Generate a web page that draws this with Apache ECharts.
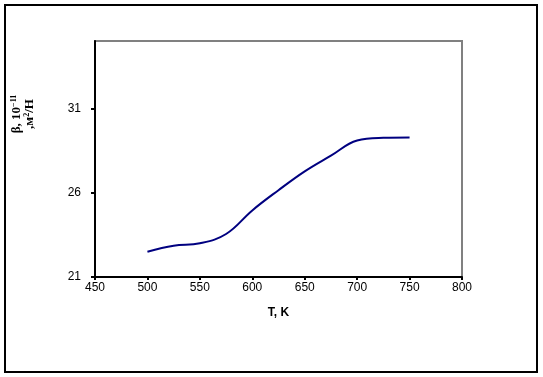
<!DOCTYPE html>
<html>
<head>
<meta charset="utf-8">
<script src="https://cdn.jsdelivr.net/npm/echarts@6/dist/echarts.min.js"></script>
<style>
html,body{margin:0;padding:0;background:#fff;}
#c{width:543px;height:377px;}
</style>
</head>
<body>
<div id="c"></div>
<script>
var temps = [500, 525, 550, 575, 600, 625, 650, 675, 700, 725, 750];
var beta = [22.5, 22.85, 23.0, 23.55, 24.95, 26.15, 27.27, 28.2, 29.1, 29.26, 29.28];
var xTicks = [450, 500, 550, 600, 650, 700, 750, 800];
var yTicks = [21, 26, 31];

var chart = echarts.init(document.getElementById('c'));
chart.setOption({
  animation: false,
  backgroundColor: '#fff',
  grid: {
    left: 95, top: 41, right: 81, bottom: 100,
    show: true, borderColor: '#808080', borderWidth: 2, backgroundColor: '#fff'
  },
  xAxis: {
    type: 'value', min: 450, max: 800, interval: 50,
    name: 'T, K', nameLocation: 'middle', nameGap: 30,
    nameTextStyle: {fontFamily: 'Liberation Sans, Arial', fontSize: 12, fontWeight: 'bold', color: '#000'},
    axisLine: {lineStyle: {color: '#000', width: 2}},
    axisTick: {show: true, length: 3, lineStyle: {color: '#000', width: 2}},
    axisLabel: {margin: 5, fontFamily: 'Liberation Sans, Arial', fontSize: 12, color: '#000',
      customValues: xTicks},
    splitLine: {show: false}
  },
  yAxis: {
    type: 'value', min: 21, max: 35, interval: 5,
    axisLine: {show: true, lineStyle: {color: '#000', width: 2}},
    axisTick: {show: true, length: 4, lineStyle: {color: '#000', width: 2}, customValues: yTicks},
    axisLabel: {margin: 14, fontFamily: 'Liberation Sans, Arial', fontSize: 12, color: '#000',
      customValues: yTicks},
    splitLine: {show: false}
  },
  graphic: [
    {type: 'rect', shape: {x: 5, y: 5, width: 532, height: 367},
     style: {fill: 'none', stroke: '#000', lineWidth: 2}, z: 100},
    {type: 'text', x: 23, y: 114, rotation: Math.PI / 2,
     style: {
       text: '{b|β, 10}{s|−11}\n{b|,м}{s|2}{b|/Н}',
       align: 'center', verticalAlign: 'middle',
       rich: {
         b: {fontFamily: 'Liberation Serif, Times New Roman', fontSize: 13, fontWeight: 'bold', fill: '#000', lineHeight: 13},
         s: {fontFamily: 'Liberation Serif, Times New Roman', fontSize: 8, fontWeight: 'bold', fill: '#000', verticalAlign: 'top', lineHeight: 13}
       }
     }, z: 100}
  ],
  series: [{
    type: 'line',
    data: temps.map(function (t, i) { return [t, beta[i]]; }),
    smooth: 0.4,
    showSymbol: false,
    lineStyle: {color: '#000080', width: 2},
    clip: false
  }]
});
</script>
</body>
</html>
